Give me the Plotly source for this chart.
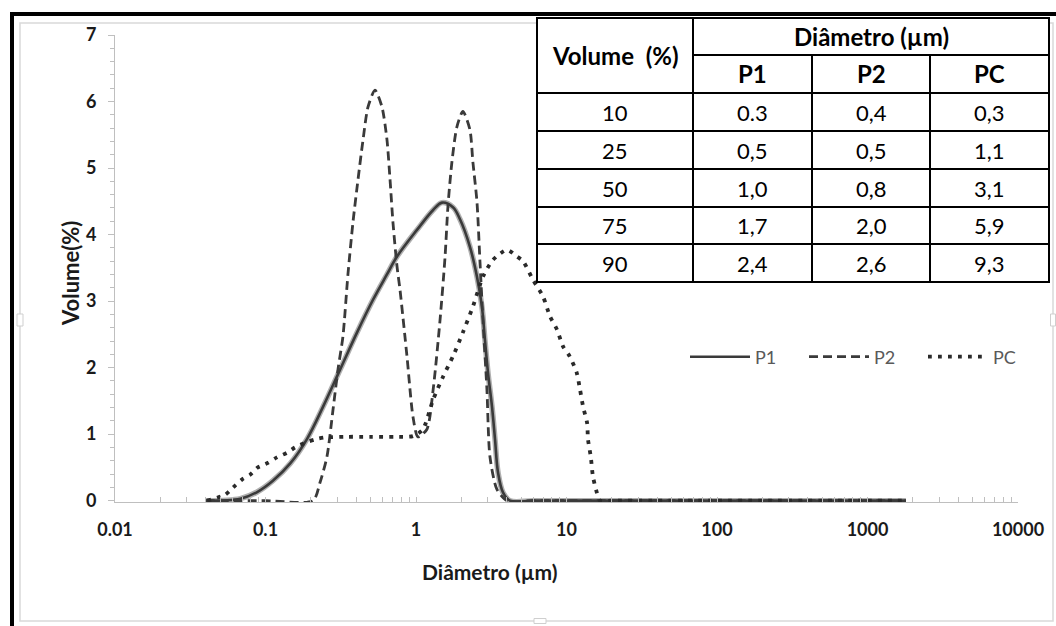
import plotly.graph_objects as go

# ---- particle size distributions: diameter (µm) vs volume (%) ----
p1_d = [0.040, 0.068, 0.088, 0.112, 0.146, 0.189, 0.241, 0.313, 0.406, 0.518, 0.641,
        0.748, 1.015, 1.30, 1.49, 1.76, 1.96, 2.28, 2.54, 2.74, 2.87, 3.01, 3.20, 3.35,
        3.51, 3.79, 4.21, 6, 10, 20, 50, 100, 200, 500, 1000, 1800]
p1_v = [0, 0.03, 0.13, 0.30, 0.56, 0.93, 1.41, 1.97, 2.53, 3.02, 3.40,
        3.67, 4.07, 4.37, 4.48, 4.41, 4.23, 3.82, 3.37, 2.92, 2.42, 1.92, 1.41, 0.92,
        0.42, 0.12, 0, 0, 0, 0, 0, 0, 0, 0, 0, 0]

p2_d = [0.040, 0.10, 0.207, 0.230, 0.256, 0.281, 0.303, 0.327, 0.353, 0.381, 0.412,
        0.445, 0.480, 0.534, 0.594, 0.641, 0.672, 0.703, 0.748, 0.783, 0.871, 0.955,
        1.03, 1.18, 1.30, 1.44, 1.56, 1.63, 1.73, 1.87, 2.05, 2.28, 2.39, 2.54, 2.66,
        2.79, 2.96, 3.10, 3.45, 4.02, 6, 10, 20, 50, 100, 200, 500, 1000, 1800]
p2_v = [0, 0, 0, 0.27, 0.66, 1.37, 1.97, 2.47, 3.40, 4.18, 4.83,
        5.43, 5.92, 6.17, 5.92, 5.43, 4.83, 4.18, 3.52, 3.17, 2.17, 1.26,
        0.96, 1.07, 1.67, 2.68, 3.67, 4.42, 5.08, 5.62, 5.85, 5.58, 5.08, 4.50, 3.60,
        2.68, 1.67, 0.66, 0.17, 0, 0, 0, 0, 0, 0, 0, 0, 0, 0]

pc_d = [0.041, 0.054, 0.061, 0.070, 0.079, 0.089, 0.104, 0.119, 0.139, 0.157, 0.183,
        0.213, 0.249, 0.338, 0.494, 0.725, 0.955, 1.11, 1.30, 1.51, 1.76, 2.05, 2.39,
        2.79, 3.25, 4.02, 4.69, 5.14, 5.99, 6.98, 7.77, 8.65, 9.48, 10.5, 11.7, 12.3,
        12.9, 13.7, 13.9, 14.5, 15.0, 16.2, 16.7, 20, 50, 100, 200, 500, 1000, 1800]
pc_v = [0, 0.09, 0.20, 0.32, 0.39, 0.50, 0.57, 0.65, 0.72, 0.80, 0.87,
        0.92, 0.95, 0.96, 0.96, 0.96, 0.97, 1.07, 1.52, 1.86, 2.17, 2.53, 2.92,
        3.37, 3.62, 3.77, 3.67, 3.60, 3.32, 3.07, 2.77, 2.57, 2.32, 2.17, 1.92, 1.67,
        1.41, 1.17, 0.92, 0.66, 0.36, 0.06, 0, 0, 0, 0, 0, 0, 0, 0]

# ---- summary table: percentile diameters ----
table_pct = ["10", "25", "50", "75", "90"]
table_p1 = ["0.3", "0,5", "1,0", "1,7", "2,4"]
table_p2 = ["0,4", "0,5", "0,8", "2,0", "2,6"]
table_pc = ["0,3", "1,1", "3,1", "5,9", "9,3"]
table_series = ["P1", "P2", "PC"]

x_tickvals = [0.01, 0.1, 1, 10, 100, 1000, 10000]
x_ticktext = ["0.01", "0.1", "1", "10", "100", "1000", "10000"]

# ---- page geometry (pixels) ----
W, H = 1056, 626
ML, MR, MT, MB = 115, 38, 35, 124
PW, PH = W - ML - MR, H - MT - MB
FONT = "Lato"
INK = "#3a3a3a"
# the y range dips a hair below zero so curves lying on the baseline are not half-clipped
Y_RANGE = [-0.02, 7]


def fx(px):
    return (px - ML) / PW


def fy(py):
    return (H - MB - py) / PH


fig = go.Figure()

# P1 drawn twice: a soft grey halo under a darker core
fig.add_trace(go.Scatter(x=p1_d, y=p1_v, mode="lines", showlegend=False, hoverinfo="skip",
                         line=dict(color="#b0b0b0", width=5.5, shape="spline", smoothing=1.0)))
fig.add_trace(go.Scatter(x=p1_d, y=p1_v, mode="lines", name="P1",
                         line=dict(color=INK, width=2.6, shape="spline", smoothing=1.0)))
fig.add_trace(go.Scatter(x=p2_d, y=p2_v, mode="lines", name="P2",
                         line=dict(color=INK, width=2.8, dash="9px,5px", shape="spline", smoothing=0.7)))
fig.add_trace(go.Scatter(x=pc_d, y=pc_v, mode="lines", name="PC",
                         line=dict(color="#2a2a2a", width=3.8, dash="3.8px,6.2px", shape="spline", smoothing=0.7)))

shapes = []
annotations = []

# outer chart-area outline and thick black frame edges
shapes.append(dict(type="rect", xref="paper", yref="paper", x0=fx(20), x1=fx(1053), y0=fy(621), y1=fy(23),
                   line=dict(color="#d9d9d9", width=1.5), layer="below"))
shapes.append(dict(type="line", xref="paper", yref="paper", x0=fx(12), x1=fx(12), y0=fy(12), y1=fy(630),
                   line=dict(color="black", width=4)))
shapes.append(dict(type="line", xref="paper", yref="paper", x0=fx(10), x1=fx(1060), y0=fy(14), y1=fy(14),
                   line=dict(color="black", width=4)))
# small sizing handles on the chart-area outline
for hx, hy, hw, hh in [(20, 320, 6, 12), (540, 621, 12, 5), (1053, 320, 5, 12)]:
    shapes.append(dict(type="rect", xref="paper", yref="paper",
                       x0=fx(hx - hw / 2), x1=fx(hx + hw / 2), y0=fy(hy + hh / 2), y1=fy(hy - hh / 2),
                       fillcolor="white", line=dict(color="#cfcfcf", width=1)))

# table grid
col_edges = [537, 693, 812, 930, 1049]
row_edges = [18, 55, 93, 131, 169, 207, 244, 282]
TL = dict(color="black", width=2)
shapes.append(dict(type="rect", xref="paper", yref="paper", x0=fx(col_edges[0]), x1=fx(col_edges[-1]),
                   y0=fy(row_edges[-1]), y1=fy(row_edges[0]), fillcolor="white", line=TL))
shapes.append(dict(type="line", xref="paper", yref="paper", x0=fx(col_edges[1]), x1=fx(col_edges[1]),
                   y0=fy(row_edges[0]), y1=fy(row_edges[-1]), line=TL))
for c in col_edges[2:-1]:
    shapes.append(dict(type="line", xref="paper", yref="paper", x0=fx(c), x1=fx(c),
                       y0=fy(row_edges[1]), y1=fy(row_edges[-1]), line=TL))
shapes.append(dict(type="line", xref="paper", yref="paper", x0=fx(col_edges[1]), x1=fx(col_edges[-1]),
                   y0=fy(row_edges[1]), y1=fy(row_edges[1]), line=TL))
for r in row_edges[2:-1]:
    shapes.append(dict(type="line", xref="paper", yref="paper", x0=fx(col_edges[0]), x1=fx(col_edges[-1]),
                       y0=fy(r), y1=fy(r), line=TL))


def cell_text(text, cx, cy, bold=False):
    annotations.append(dict(xref="paper", yref="paper", x=fx(cx), y=fy(cy), text=f"<b>{text}</b>" if bold else text,
                            showarrow=False, xanchor="center", yanchor="middle",
                            font=dict(family=FONT, size=24 if bold else 22, color="black")))


cell_text("Volume  (%)", (col_edges[0] + col_edges[1]) / 2, (row_edges[0] + row_edges[2]) / 2, bold=True)
cell_text("Diâmetro (µm)", (col_edges[1] + col_edges[-1]) / 2, (row_edges[0] + row_edges[1]) / 2, bold=True)
for j, s in enumerate(table_series):
    cell_text(s, (col_edges[j + 1] + col_edges[j + 2]) / 2, (row_edges[1] + row_edges[2]) / 2, bold=True)
for i, row in enumerate(zip(table_pct, table_p1, table_p2, table_pc)):
    cy = (row_edges[i + 2] + row_edges[i + 3]) / 2
    for j, val in enumerate(row):
        cell_text(val, (col_edges[j] + col_edges[j + 1]) / 2, cy)

# axis titles
annotations.append(dict(xref="paper", yref="paper", x=fx(490), y=fy(571), text="<b>Diâmetro (µm)</b>",
                        showarrow=False, xanchor="center", yanchor="middle",
                        font=dict(family=FONT, size=21, color="#1a1a1a")))
annotations.append(dict(xref="paper", yref="paper", x=fx(70), y=fy(274), text="<b>Volume(%)</b>",
                        showarrow=False, xanchor="center", yanchor="middle", textangle=-90,
                        font=dict(family=FONT, size=22, color="#1a1a1a")))

minor_x = [m * 10 ** e for e in range(-2, 4) for m in range(2, 10)]

fig.update_layout(
    width=W, height=H,
    margin=dict(l=ML, r=MR, t=MT, b=MB, autoexpand=False),
    paper_bgcolor="white", plot_bgcolor="white",
    font=dict(family=FONT, color="#1a1a1a"),
    shapes=shapes, annotations=annotations,
    legend=dict(orientation="h", x=fx(1042), y=fy(357), xanchor="right", yanchor="middle",
                bgcolor="rgba(0,0,0,0)", itemwidth=60, entrywidth=44, entrywidthmode="pixels",
                font=dict(family=FONT, size=18, color="#595959")),
    xaxis=dict(type="log", range=[-2, 4], tickmode="array", tickvals=x_tickvals, ticktext=x_ticktext,
               showgrid=False, zeroline=False, showline=True, linecolor="#bfbfbf", linewidth=1,
               ticks="inside", ticklen=5, tickcolor="#bfbfbf", ticklabelstandoff=11,
               tickfont=dict(family=FONT, size=18, color="#1a1a1a", weight="bold"),
               minor=dict(tickmode="array", tickvals=minor_x, ticks="inside", ticklen=5, tickcolor="#bfbfbf")),
    yaxis=dict(range=Y_RANGE, tickmode="linear", tick0=0, dtick=1,
               showgrid=False, zeroline=False, showline=True, linecolor="#bfbfbf", linewidth=1,
               ticks="outside", ticklen=6, tickcolor="#bfbfbf", ticklabelstandoff=8,
               tickfont=dict(family=FONT, size=18, color="#1a1a1a", weight="bold"),
               minor=dict(tickmode="linear", tick0=0, dtick=0.2, ticks="outside", ticklen=4, tickcolor="#bfbfbf")),
)

fig.write_html("out.html")
